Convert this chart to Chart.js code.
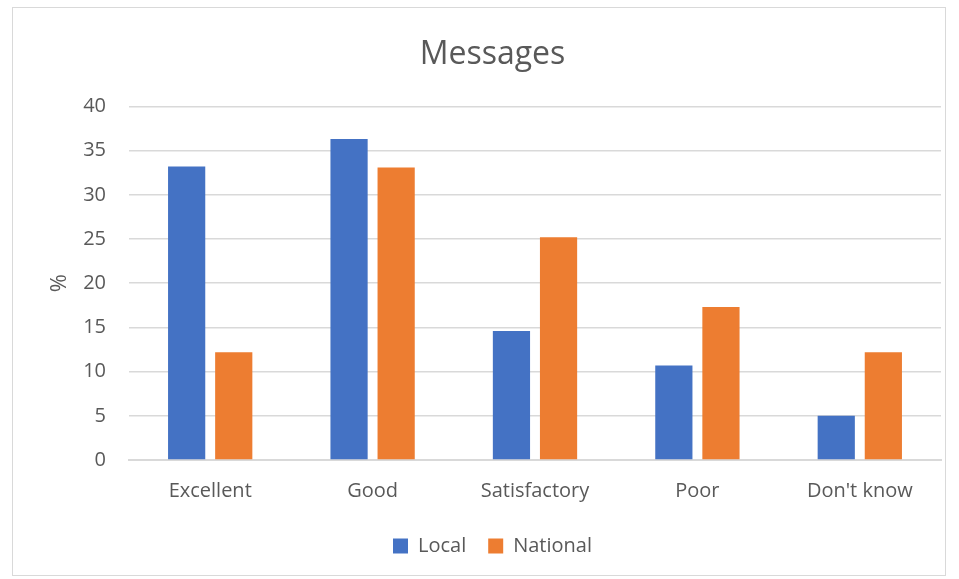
<!DOCTYPE html>
<html>
<head>
<meta charset="utf-8">
<script src="https://cdn.jsdelivr.net/npm/chart.js@4.4.1/dist/chart.umd.min.js"></script>
<style>
  html, body { margin: 0; padding: 0; background: #fff; }
  #frame {
    position: absolute; left: 12px; top: 7px;
    width: 932px; height: 567px;
    border: 1px solid #d9d9d9;
  }
  #frame canvas { display: block; }
</style>
</head>
<body>
<div id="frame"><canvas id="messagesChart" width="932" height="567"></canvas></div>
<script>
var categories = ['Excellent', 'Good', 'Satisfactory', 'Poor', "Don't know"];
var localValues = [33.2, 36.3, 14.6, 10.7, 5.0];
var nationalValues = [12.2, 33.1, 25.2, 17.3, 12.2];
var yTicks = [0, 5, 10, 15, 20, 25, 30, 35, 40];

var fontFamily = "'Open Sans', 'Liberation Sans', sans-serif";
var textColor = '#595959';

document.addEventListener('DOMContentLoaded', function () {
  var el = document.getElementById('messagesChart');
  new Chart(el, {
    type: 'bar',
    data: {
      labels: categories,
      datasets: [
        {
          label: 'Local',
          data: localValues,
          backgroundColor: '#4472c4',
          categoryPercentage: 0.58,
          barPercentage: 0.79,
        },
        {
          label: 'National',
          data: nationalValues,
          backgroundColor: '#ed7d31',
          categoryPercentage: 0.58,
          barPercentage: 0.79,
        },
      ],
    },
    options: {
      responsive: false,
      animation: false,
      layout: { padding: { left: 31, right: 4, top: 8, bottom: 9 } },
      scales: {
        x: {
          grid: { display: false },
          border: { color: '#d9d9d9', width: 2 },
          ticks: { color: textColor, font: { family: fontFamily, size: 20 }, padding: 11 },
        },
        y: {
          min: 0,
          max: 40,
          afterBuildTicks: function (axis) {
            axis.ticks = yTicks.map(function (v) { return { value: v }; });
          },
          afterFit: function (axis) {
            axis.width = 85;
          },
          grid: { color: '#d9d9d9', lineWidth: 1.5, drawTicks: false },
          border: { display: false },
          ticks: { color: textColor, font: { family: fontFamily, size: 20 }, padding: 23 },
          title: {
            display: true,
            text: '%',
            color: textColor,
            font: { family: fontFamily, size: 22 },
            padding: { top: 3, bottom: 0 },
          },
        },
      },
      plugins: {
        title: {
          display: true,
          text: 'Messages',
          color: textColor,
          font: { family: fontFamily, size: 32, weight: 'normal' },
          padding: { top: 20, bottom: 32 },
        },
        legend: {
          position: 'bottom',
          labels: {
            color: textColor,
            font: { family: fontFamily, size: 20 },
            boxWidth: 15,
            boxHeight: 15,
            padding: 22,
          },
        },
        tooltip: { enabled: false },
      },
    },
  });
});
</script>
</body>
</html>
